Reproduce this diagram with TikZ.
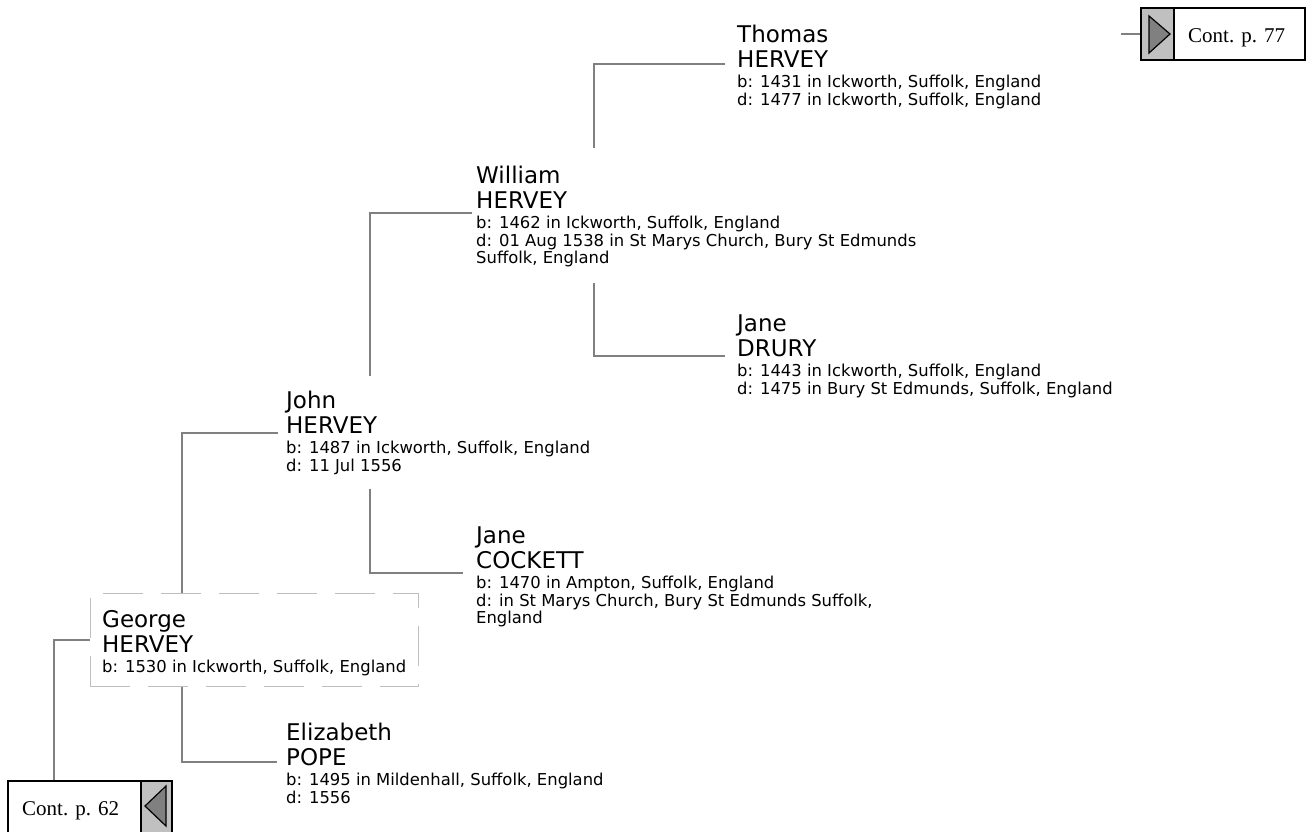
\documentclass[tikz,border=0pt]{standalone}
\usepackage{fontspec}
\newfontfamily\treefont{DejaVu Sans}
\newfontfamily\contfont{Liberation Serif}
\usetikzlibrary{positioning}
\definecolor{linkgray}{RGB}{128,128,128}
\definecolor{panelgray}{RGB}{192,192,192}
\definecolor{dashgray}{RGB}{190,190,190}
\newcommand{\namefont}{\treefont\fontsize{23}{25.5}\selectfont}
\newcommand{\datefont}{\treefont\fontsize{16.4}{17.5}\selectfont}
\newcommand{\contfnt}{\contfont\fontsize{21}{24}\selectfont}
% rows of text, baseline at the first row
\newcommand{\rows}[1]{\begin{tabular}[t]{@{}l@{}}#1\end{tabular}}

\begin{document}
\begin{tikzpicture}[x=1pt,y=-1pt,
  person/.style={anchor=base west, inner sep=0pt, font=\namefont},
  dates/.style={anchor=base west, inner sep=0pt, font=\datefont},
  link/.style={draw=linkgray, line width=2pt},
  focusbox/.style={draw=dashgray, line width=1pt, dash pattern=on 40pt off 18pt, inner sep=0pt},
  contbox/.style={draw=black, line width=2pt, inner sep=0pt},
  conttext/.style={anchor=base west, inner sep=0pt, font=\contfnt},
  pointer/.style={fill=linkgray, draw=black, line width=1.2pt, line join=miter}]
\useasboundingbox (0,0) rectangle (1307,831);

% George (focus person)
\node[focusbox, minimum width=328pt, minimum height=93pt] (georgebox) at (254,639.5) {};
\node[person] (george) at (102,627) {\rows{George\\HERVEY}};
\node[dates, below=45.5pt of george.base west, anchor=base west] (georgeD) {\rows{b: 1530 in Ickworth, Suffolk, England}};

% parents
\node[person] (john) at (286,408) {\rows{John\\HERVEY}};
\node[dates, below=45.5pt of john.base west, anchor=base west] (johnD) {\rows{b: 1487 in Ickworth, Suffolk, England\\d: 11 Jul 1556}};
\node[person] (elizabeth) at (286,740) {\rows{Elizabeth\\POPE}};
\node[dates, below=45.5pt of elizabeth.base west, anchor=base west] (elizabethD) {\rows{b: 1495 in Mildenhall, Suffolk, England\\d: 1556}};

% grandparents
\node[person] (william) at (476,183) {\rows{William\\HERVEY}};
\node[dates, below=45.5pt of william.base west, anchor=base west] (williamD) {\rows{b: 1462 in Ickworth, Suffolk, England\\d: 01 Aug 1538 in St Marys Church, Bury St Edmunds\\Suffolk, England}};
\node[person] (cockett) at (476,543) {\rows{Jane\\COCKETT}};
\node[dates, below=45.5pt of cockett.base west, anchor=base west] (cockettD) {\rows{b: 1470 in Ampton, Suffolk, England\\d: in St Marys Church, Bury St Edmunds Suffolk,\\England}};

% great-grandparents
\node[person] (thomas) at (737,42) {\rows{Thomas\\HERVEY}};
\node[dates, below=45.5pt of thomas.base west, anchor=base west] (thomasD) {\rows{b: 1431 in Ickworth, Suffolk, England\\d: 1477 in Ickworth, Suffolk, England}};
\node[person] (drury) at (737,331) {\rows{Jane\\DRURY}};
\node[dates, below=45.5pt of drury.base west, anchor=base west] (druryD) {\rows{b: 1443 in Ickworth, Suffolk, England\\d: 1475 in Bury St Edmunds, Suffolk, England}};

% links
\draw[link] ([xshift=92pt]georgebox.north west) |- ([shift={(-8pt,-25pt)}]john.base west);
\draw[link] ([xshift=92pt]georgebox.south west) |- ([shift={(-9pt,-22pt)}]elizabeth.base west);
\draw[link] ([shift={(84pt,32pt)}]john.base west) |- ([shift={(-4pt,-30pt)}]william.base west);
\draw[link] ([shift={(84pt,-81pt)}]john.base west) |- ([shift={(-13pt,-30pt)}]cockett.base west);
\draw[link] ([shift={(118pt,35pt)}]william.base west) |- ([shift={(-12pt,-22pt)}]thomas.base west);
\draw[link] ([shift={(118pt,-100pt)}]william.base west) |- ([shift={(-12pt,-25pt)}]drury.base west);

% continuation boxes
\fill[panelgray] (141,781) rectangle (172,834);
\draw[black, line width=1.5pt] (141,781) -- (141,834);
\draw[pointer] (166,786) -- (145,806) -- (166,826) -- cycle;
\node[contbox, minimum width=164pt, minimum height=53pt] (box62) at (90,807.5) {};
\node[conttext] (cont62) at (22,815) {Cont. p. 62};
\draw[link] ([xshift=47pt]box62.north west) |- (georgebox.west);

\fill[panelgray] (1141,8) rectangle (1174,60);
\draw[black, line width=1.5pt] (1174,8) -- (1174,60);
\draw[pointer] (1149,16) -- (1170,34) -- (1149,53) -- cycle;
\node[contbox, minimum width=164pt, minimum height=52pt] (box77) at (1223,34) {};
\node[conttext] (cont77) at (1188,42) {Cont. p. 77};
\draw[link] (box77.west) -- ++(-19,0);
\end{tikzpicture}
\end{document}
